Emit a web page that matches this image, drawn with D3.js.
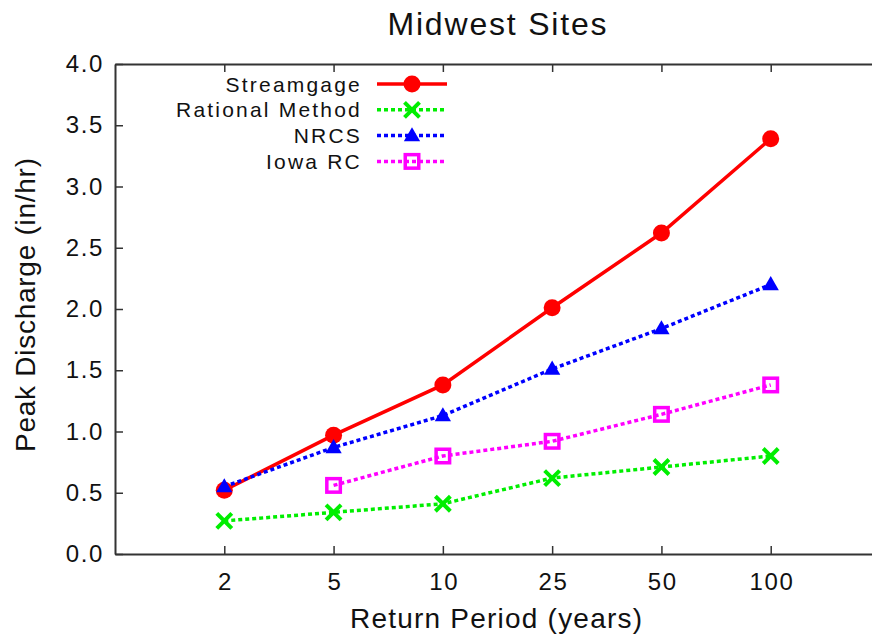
<!DOCTYPE html>
<html><head><meta charset="utf-8">
<script src="https://cdn.jsdelivr.net/npm/d3@7"></script>
<style>body{margin:0;background:#fff;} text{font-family:"Liberation Sans",Arial,Helvetica,sans-serif;}</style>
</head><body>
<svg id="c" width="872" height="639"></svg>
<script>
const categories = ["2","5","10","25","50","100"];
const yTicks = [0,0.5,1,1.5,2,2.5,3,3.5,4];
const streamgage = [0.52,0.97,1.38,2.01,2.62,3.39];
const rational = [0.27,0.34,0.41,0.62,0.71,0.80];
const nrcs = [0.55,0.87,1.13,1.51,1.84,2.20];
const iowaRC = [null,0.56,0.80,0.92,1.14,1.38];
const seriesNames = ["Streamgage","Rational Method","NRCS","Iowa RC"];

const svg = d3.select("#c");
const L=115, R=880, T=64, B=554;
const x = d3.scalePoint().domain(categories).range([L,R]).padding(1);
const y = d3.scaleLinear().domain([0,4]).range([B,T]);

const axisColor="#333";
function styleAxis(g){
  g.selectAll(".domain").attr("stroke",axisColor).attr("stroke-width",2);
  g.selectAll(".tick line").attr("stroke",axisColor).attr("stroke-width",1.5);
  g.selectAll(".tick text").attr("fill","#111").style("font-size","24px")
    .style("letter-spacing","1.6px").style("font-family","'Liberation Sans',Arial,sans-serif");
}
svg.append("g").attr("transform",`translate(${L},0)`)
  .call(d3.axisLeft(y).tickValues(yTicks).tickFormat(d3.format(".1f")).tickSize(-8).tickSizeOuter(0).tickPadding(11)).call(styleAxis);
const xa = svg.append("g").attr("transform",`translate(0,${B})`)
  .call(d3.axisBottom(x).tickSize(-8).tickSizeOuter(0).tickPadding(19)).call(styleAxis);
xa.selectAll(".tick text").attr("dx","0.8px");
svg.append("g").attr("transform",`translate(${R},0)`)
  .call(d3.axisRight(y).tickValues(yTicks).tickFormat("").tickSize(-8).tickSizeOuter(0)).call(styleAxis);
svg.append("g").attr("transform",`translate(0,${T})`)
  .call(d3.axisTop(x).tickFormat("").tickSize(-8).tickSizeOuter(0)).call(styleAxis);

svg.append("text").attr("x",497).attr("y",35).attr("text-anchor","middle").style("font-size","32px")
  .attr("textLength",219).attr("lengthAdjust","spacing").attr("fill","#111").text("Midwest Sites");
svg.append("text").attr("x",496).attr("y",628).attr("text-anchor","middle").style("font-size","28px")
  .attr("textLength",292).attr("lengthAdjust","spacing").attr("fill","#111").text("Return Period (years)");
svg.append("text").attr("transform","translate(35,305) rotate(-90)").attr("text-anchor","middle").style("font-size","28px")
  .attr("textLength",294).attr("lengthAdjust","spacing").attr("fill","#111").text("Peak Discharge (in/hr)");

const series = [
  {name:seriesNames[0], vals:streamgage, color:"#ff0000", dash:null, marker:"circle"},
  {name:seriesNames[1], vals:rational, color:"#00ee00", dash:"4,3", marker:"x"},
  {name:seriesNames[2], vals:nrcs, color:"#0000ff", dash:"4,3", marker:"tri"},
  {name:seriesNames[3], vals:iowaRC, color:"#ff00ff", dash:"4,3", marker:"square"}
];

function drawMarker(g, type, cx, cy, color){
  if(type==="circle"){
    g.append("circle").attr("cx",cx).attr("cy",cy).attr("r",8.5).attr("fill",color);
  } else if(type==="x"){
    const s=7.5;
    g.append("path").attr("d",`M${cx-s},${cy-s}L${cx+s},${cy+s}M${cx-s},${cy+s}L${cx+s},${cy-s}`)
      .attr("stroke",color).attr("stroke-width",4).attr("fill","none");
  } else if(type==="tri"){
    g.append("path").attr("d",d3.symbol().type(d3.symbolTriangle).size(115)()).attr("transform",`translate(${cx},${cy+1})`).attr("fill",color);
  } else if(type==="square"){
    const s=13.5;
    g.append("rect").attr("x",cx-s/2).attr("y",cy-s/2).attr("width",s).attr("height",s)
      .attr("fill","none").attr("stroke",color).attr("stroke-width",3.5);
  }
}

series.forEach(s=>{
  const g = svg.append("g");
  const pts = categories.map((c,i)=>({c, v:s.vals[i]})).filter(d=>d.v!=null);
  const line = d3.line().x(d=>x(d.c)).y(d=>y(d.v));
  g.append("path").datum(pts).attr("d",line).attr("fill","none").attr("stroke",s.color)
    .attr("stroke-width",3.5).attr("stroke-dasharray",s.dash);
  pts.forEach(d=>drawMarker(g,s.marker,x(d.c),y(d.v),s.color));
});

// legend
const lg = svg.append("g");
series.forEach((s,i)=>{
  const ly = 84 + i*25.8;
  lg.append("text").attr("x",362).attr("y",ly+7.5).attr("text-anchor","end").style("font-size","21px")
    .style("letter-spacing","2.2px").attr("fill","#111").text(s.name);
  lg.append("line").attr("x1",377).attr("x2",447).attr("y1",ly).attr("y2",ly).attr("stroke",s.color)
    .attr("stroke-width",3.5).attr("stroke-dasharray",s.dash);
  drawMarker(lg,s.marker,412,ly,s.color);
});
</script>
</body></html>
